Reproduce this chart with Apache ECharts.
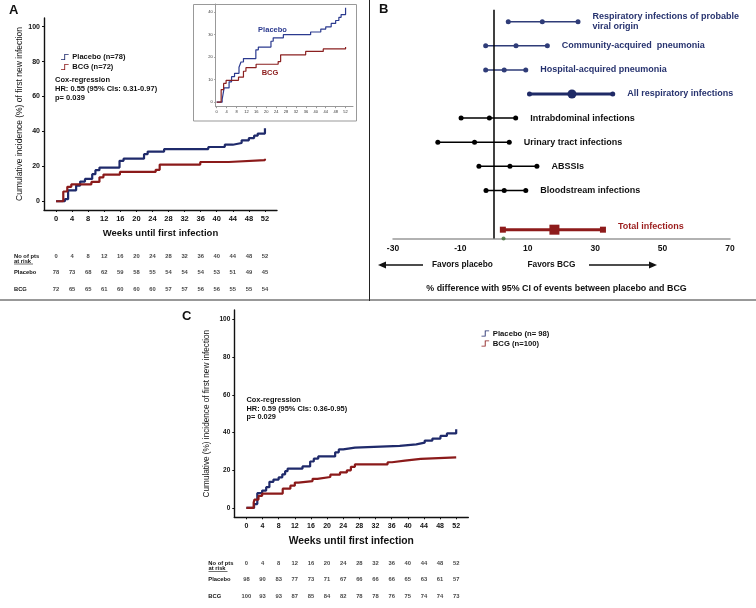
<!DOCTYPE html>
<html><head><meta charset="utf-8">
<script src="https://cdn.jsdelivr.net/npm/echarts@6/dist/echarts.min.js"></script>
<style>html,body{margin:0;padding:0;background:#fff}#c{width:756px;height:608px}</style>
</head><body><div id="c"></div>
<script>
// ---------- DATA ----------
const weekTicks = [0,4,8,12,16,20,24,28,32,36,40,44,48,52];
const incTicks = [0,20,40,60,80,100];
const insetIncTicks = [0,10,20,30,40];

// Panel A: cumulative incidence steps [week, %]
const placeboA = [[0,0],[2.2,1.2],[3,6.3],[5,9],[6,11.3],[7.2,12.8],[9,15.5],[9.8,17.8],[10.8,19.3],[15.8,23.2],[16.8,24.4],[21.9,27],[22.8,28.5],[26.9,29.9],[37.9,31.1],[42,32.4],[44,33.4],[46.2,34.9],[48,36.2],[49.3,37.6],[50.2,38.8],[52,41.8]];
const bcgA = [[0,0],[1.8,5.6],[2.8,8.3],[3.8,9.7],[8.8,11.1],[10.8,13.7],[11.8,15.3],[15.9,16.8],[24.8,18],[25.8,21],[35.9,22.5],[43,23.6],[52,24.4]];
const riskPlaceboA = [78,73,68,62,59,58,55,54,54,54,53,51,49,45];
const riskBcgA = [72,65,65,61,60,60,60,57,57,56,56,55,55,54];

// Panel C
const placeboC = [[0,0],[1.9,2],[2.7,7.8],[3.9,9.2],[4.9,11],[5.7,13.8],[6.7,15],[8,16.2],[8.9,17.8],[9.6,19.5],[10.2,20.8],[13.9,22],[15.8,24.6],[16.7,26.1],[17.8,27.3],[22,29.5],[22.9,31],[24,32],[26.9,32.9],[38,33.7],[42.1,34.6],[44.2,35.7],[46.1,36.8],[48.1,38.2],[49.7,39.5],[52,41.7]];
const bcgC = [[0,0],[1.8,2.8],[2,4.4],[3,6.4],[3.9,7.6],[9,10.2],[10.9,11.8],[12,13.4],[12.9,14.2],[16.4,15.4],[17.6,16.4],[20.8,17.6],[23.2,18.8],[24.9,19.9],[25.9,21.8],[26.9,23.1],[35,24.2],[36.1,25.1],[39.3,26],[43.2,26.8],[52,26.8]];
const riskPlaceboC = [98,90,83,77,73,71,67,66,66,66,65,63,61,57];
const riskBcgC = [100,93,93,87,85,84,82,78,78,76,75,74,74,73];

const riskRows = ['No of pts','Placebo','BCG'];

// Panel B: forest plot (% difference, 95% CI)
const forestLabels = ['Respiratory infections of probable\nviral origin','Community-acquired  pneumonia','Hospital-acquired pneumonia','All respiratory infections','Intrabdominal infections','Urinary tract infections','ABSSIs','Bloodstream infections','Total infections'];
const forestLow  = [4.2,-2.5,-2.5,10.5,-9.8,-16.7,-4.5,-2.4,2.6];
const forestEst  = [14.3,6.5,3.0,23.1,-1.4,-5.8,4.7,3.0,17.9];
const forestHigh = [24.9,15.8,9.4,35.2,6.4,4.5,12.7,9.4,32.3];
const forestTicks = [-30,-10,10,30,50,70];
const forestRefMark = [2.8];

// ---------- LAYOUT / STYLE ----------
const FONT = '"Liberation Sans", Arial, sans-serif';
const NAVY = '#1f2a6b', RED = '#8b1a1a';
const forestRowPos = [0,1,2,3,4,5,6,7,8.63];
const forestColors = ['#2f3c78','#2f3c78','#2f3c78','#1f2a66','#000','#000','#000','#000','#8e1b1b'];
const forestTextColors = ['#27336f','#27336f','#27336f','#27336f','#111','#111','#111','#111','#9b1c1c'];
const stepIcon = 'path://M0,9.5 L6,9.5 L6,0 L14,0 L14,1.6 L7.6,1.6 L7.6,11 L0,11 Z';

function kmAxisX(grid, name, nameSize, gap, labelSize) {
  return {gridIndex:grid, type:'value', min:-3, max:55,
    axisLine:{show:true,onZero:false,lineStyle:{color:'#111',width:1.4}},
    axisTick:{show:true,customValues:weekTicks,length:2,lineStyle:{color:'#111'}},
    axisLabel:{customValues:weekTicks,fontSize:labelSize,fontWeight:'bold',color:'#111',margin:5,fontFamily:FONT},
    splitLine:{show:false},
    name:name,nameLocation:'middle',nameGap:gap,
    nameTextStyle:{fontSize:nameSize,fontWeight:'bold',color:'#111',fontFamily:FONT}};
}
function kmAxisY(grid, name, nameSize, gap, labelSize) {
  return {gridIndex:grid, type:'value', min:-5, max:105,
    axisLine:{show:true,onZero:false,lineStyle:{color:'#111',width:1.4}},
    axisTick:{show:true,customValues:incTicks,length:2,lineStyle:{color:'#111'}},
    axisLabel:{customValues:incTicks,fontSize:labelSize,fontWeight:'bold',color:'#111',margin:4,fontFamily:FONT},
    splitLine:{show:false},
    name:name,nameLocation:'middle',nameGap:gap,
    nameTextStyle:{fontSize:nameSize,color:'#111',fontFamily:FONT}};
}
function riskX(grid){ return {gridIndex:grid,type:'value',min:-3,max:55,show:false}; }
function riskY(grid, margin){ return {gridIndex:grid,type:'category',data:riskRows,inverse:true,
  axisLine:{show:false},axisTick:{show:false},
  axisLabel:{align:'left',margin:margin,fontSize:5.8,fontWeight:'bold',color:'#111',fontFamily:FONT}}; }
function riskSeries(ax, plac, bcg){
  const d = [];
  weekTicks.forEach((w,i)=>{ d.push([w,'No of pts',w]); d.push([w,'Placebo',plac[i]]); d.push([w,'BCG',bcg[i]]); });
  return {type:'scatter',xAxisIndex:ax,yAxisIndex:ax,data:d,symbolSize:1,itemStyle:{color:'rgba(0,0,0,0)'},silent:true,
    label:{show:true,position:'inside',formatter:p=>String(p.value[2]),fontSize:5.8,fontWeight:'bold',color:'#111',fontFamily:FONT}};
}
function km(name, ax, data, color, width){
  return {type:'line',name:name,xAxisIndex:ax,yAxisIndex:ax,data:data,step:'end',symbol:'none',silent:true,
    lineStyle:{color:color,width:width},itemStyle:{color:color}};
}

const series = [];
// A main (axis 0)
series.push(km('Placebo (n=78)',0,placeboA,NAVY,2.2));
series.push(km('BCG (n=72)',0,bcgA,RED,2.2));
// inset (axis 1)
series.push(km('Placebo inset',1,placeboA,'#2b3a8f',1.2));
series.push(km('BCG inset',1,bcgA,'#8b2020',1.2));
// A risk (axis 2)
series.push(riskSeries(2,riskPlaceboA,riskBcgA));
// B forest (axis 3)
forestLabels.forEach((lab,i)=>{
  const big = (i===3), tot = (i===8);
  const y = forestRowPos[i];
  series.push({type:'line',xAxisIndex:3,yAxisIndex:3,silent:true,
    symbol: tot ? 'rect' : 'circle',
    symbolSize: (v,p)=> p.dataIndex===1 ? (tot?10:(big?9:5)) : (tot?6:5),
    lineStyle:{color:forestColors[i],width:(big||tot)?3:1.5},
    itemStyle:{color:forestColors[i]},
    data:[[forestLow[i],y],[forestEst[i],y],
      {value:[forestHigh[i],y],label:{show:true,position:'right',distance:12,offset:tot?[0,-3]:[0,0],
        formatter:lab,fontSize:9,fontWeight:'bold',lineHeight:10.5,color:forestTextColors[i],fontFamily:FONT}}],
    markLine: i===0 ? {silent:true,symbol:'none',label:{show:false},lineStyle:{color:'#000',width:1.5,type:'solid'},data:[{xAxis:0}]} : undefined
  });
});
series.push({type:'scatter',xAxisIndex:3,yAxisIndex:3,silent:true,symbolSize:4,itemStyle:{color:'#3d6b34'},
  data:forestRefMark.map(v=>[v,9])});
// C main (axis 4)
series.push(km('Placebo (n= 98)',4,placeboC,NAVY,2.2));
series.push(km('BCG (n=100)',4,bcgC,RED,2.2));
// C risk (axis 5)
series.push(riskSeries(5,riskPlaceboC,riskBcgC));

const t = (text,x,y,size,opts={}) => ({type:'text',silent:true,style:Object.assign({text:text,x:x,y:y,
  font:(opts.weight||'bold')+' '+size+'px '+FONT,fill:opts.color||'#111',
  textAlign:opts.align||'left',textVerticalAlign:'middle'},opts.style||{})});
const ln = (x1,y1,x2,y2,c,w) => ({type:'line',silent:true,shape:{x1,y1,x2,y2},style:{stroke:c,lineWidth:w}});

const option = {
  animation:false,
  textStyle:{fontFamily:FONT},
  grid:[
    {left:44,top:18,width:233,height:192},
    {left:215.7,top:4,width:137.3,height:102.7},
    {left:44,top:247.75,width:233,height:49.5},
    {left:393,top:9.65,width:337,height:228.95},
    {left:234.3,top:310,width:234,height:207.3},
    {left:234.3,top:554.6,width:234,height:50}
  ],
  xAxis:[
    kmAxisX(0,'Weeks until first infection',9.5,18,7.5),
    {gridIndex:1,type:'value',min:-0.4,max:55,
      axisLine:{show:true,onZero:false,lineStyle:{color:'#999',width:1}},
      axisTick:{show:true,customValues:weekTicks,length:1.5,lineStyle:{color:'#999'}},
      axisLabel:{customValues:weekTicks,fontSize:4,color:'#333',margin:3,fontFamily:FONT},splitLine:{show:false}},
    riskX(2),
    {gridIndex:3,type:'value',min:-30,max:70,interval:20,
      axisLine:{show:true,onZero:false,lineStyle:{color:'#999',width:1.5}},
      axisTick:{show:false},
      axisLabel:{customValues:forestTicks,fontSize:8.5,fontWeight:'bold',color:'#111',margin:6,fontFamily:FONT},
      splitLine:{show:false}},
    kmAxisX(4,'Weeks until first infection',10.3,19,7),
    riskX(5)
  ],
  yAxis:[
    kmAxisY(0,'Cumulative incidence (%) of first new infection',8.5,20,7),
    {gridIndex:1,type:'value',min:-2,max:43.5,
      axisLine:{show:true,onZero:false,lineStyle:{color:'#999',width:1}},
      axisTick:{show:true,customValues:insetIncTicks,length:1.5,lineStyle:{color:'#999'}},
      axisLabel:{customValues:insetIncTicks,fontSize:4,color:'#333',margin:3,fontFamily:FONT},splitLine:{show:false}},
    riskY(2,30),
    {gridIndex:3,type:'value',min:-0.5,max:9,inverse:true,show:false},
    kmAxisY(4,'Cumulative (%) incidence of first new infection',8.2,23.5,6.5),
    riskY(5,26)
  ],
  legend:[
    {data:['Placebo (n=78)','BCG (n=72)'],left:56,top:48,orient:'vertical',itemGap:2,itemWidth:13,itemHeight:6,icon:stepIcon,
      selectedMode:false,textStyle:{fontSize:7.5,fontWeight:'bold',color:'#111',fontFamily:FONT,padding:[0,0,0,-4]}},
    {data:['Placebo (n= 98)','BCG (n=100)'],left:476.5,top:324.5,orient:'vertical',itemGap:2,itemWidth:13,itemHeight:6,icon:stepIcon,
      selectedMode:false,textStyle:{fontSize:7.7,fontWeight:'bold',color:'#111',fontFamily:FONT,padding:[0,0,0,-4]}}
  ],
  series:series,
  graphic:{elements:[
    ln(369.5,0,369.5,301,'#222',1),
    ln(0,300,756,300,'#333',1),
    t('A',9,10.5,13),
    t('B',379,9.5,13),
    t('C',182,316,13),
    {type:'rect',silent:true,shape:{x:193.5,y:4.5,width:163,height:116.5},style:{fill:'none',stroke:'#999',lineWidth:1}},
    t('Placebo',272.5,29.5,7.5,{color:'#2b3a8f',align:'center'}),
    t('BCG',270,73,7.5,{color:'#8b1a1a',align:'center'}),
    t('Cox-regression',55,80,7.5),
    t('HR: 0.55 (95% CIs: 0.31-0.97)',55,89,7.5),
    t('p= 0.039',55,97.7,7.5),
    t('at risk',14,261,5.8),
    ln(14,264,33,264,'#111',0.6),
    t('Cox-regression',246.5,400,7.4),
    t('HR: 0.59 (95% CIs: 0.36-0.95)',246.5,408.5,7.4),
    t('p= 0.029',246.5,417,7.4),
    t('at risk',208.5,568.5,5.8),
    ln(208.5,571.5,227.5,571.5,'#111',0.6),
    ln(384,265,423,265,'#111',1.5),
    {type:'polygon',silent:true,shape:{points:[[378,265],[386,261.5],[386,268.5]]},style:{fill:'#111'}},
    t('Favors placebo',432,265,8.3),
    t('Favors BCG',527.5,265,8.3),
    ln(589,265,650,265,'#111',1.5),
    {type:'polygon',silent:true,shape:{points:[[657,265],[649,261.5],[649,268.5]]},style:{fill:'#111'}},
    t('% difference with 95% CI of events between placebo and BCG',556.5,288.5,8.9,{align:'center'})
  ]}
};
const chart = echarts.init(document.getElementById('c'),null,{renderer:'canvas'});
chart.setOption(option);
</script></body></html>
